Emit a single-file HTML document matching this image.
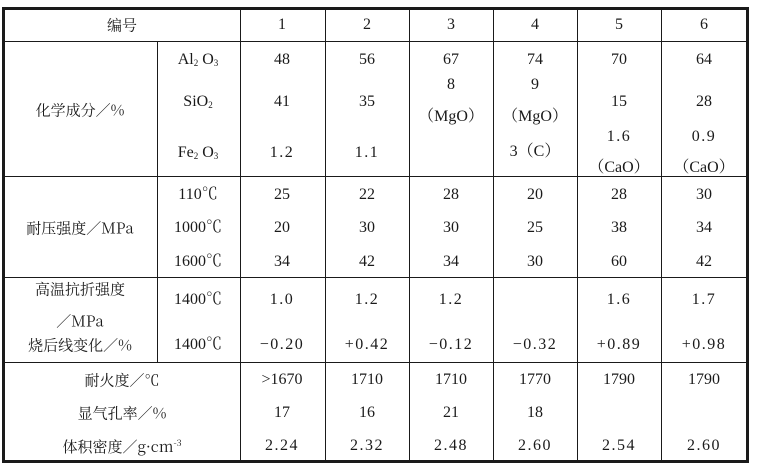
<!DOCTYPE html>
<html><head><meta charset="utf-8"><style>
body{margin:0;width:759px;height:469px;background:#fff;position:relative;overflow:hidden;font-family:"Liberation Serif","Noto Serif CJK SC",serif;color:#1a1a1a;font-size:16px}
.l{position:absolute;background:#1a1a1a}
.t{position:absolute;transform:translate(-50%,-50%);white-space:nowrap;line-height:1}
.d{letter-spacing:1.5px}
.c{font-family:"Noto Serif CJK SC",serif;font-size:15px}
sub{font-size:9px;vertical-align:-2px}
sup{font-size:9px;vertical-align:6px}
</style></head><body>
<div class="l" style="left:2px;top:7px;width:747px;height:3px"></div>
<div class="l" style="left:2px;top:460px;width:747px;height:3px"></div>
<div class="l" style="left:2px;top:7px;width:3px;height:456px"></div>
<div class="l" style="left:746px;top:7px;width:3px;height:456px"></div>
<div class="l" style="left:4px;top:41px;width:744px;height:1px"></div>
<div class="l" style="left:4px;top:176px;width:744px;height:1px"></div>
<div class="l" style="left:4px;top:277px;width:744px;height:1px"></div>
<div class="l" style="left:4px;top:362px;width:744px;height:1px"></div>
<div class="l" style="left:157px;top:42px;width:1px;height:320px"></div>
<div class="l" style="left:240px;top:9px;width:1px;height:452px"></div>
<div class="l" style="left:325px;top:9px;width:1px;height:452px"></div>
<div class="l" style="left:409px;top:9px;width:1px;height:452px"></div>
<div class="l" style="left:493px;top:9px;width:1px;height:452px"></div>
<div class="l" style="left:577px;top:9px;width:1px;height:452px"></div>
<div class="l" style="left:661px;top:9px;width:1px;height:452px"></div>

<div class="t c" style="left:122px;top:25px">编号</div>
<div class="t" style="left:282px;top:25px">1</div><div class="t" style="left:367px;top:25px">2</div><div class="t" style="left:451px;top:25px">3</div><div class="t" style="left:535px;top:25px">4</div><div class="t" style="left:619px;top:25px">5</div><div class="t" style="left:704px;top:25px">6</div>

<div class="t c" style="left:80px;top:110px">化学成分／%</div>
<div class="t" style="left:198px;top:60px">Al<sub>2</sub> O<sub>3</sub></div>
<div class="t" style="left:198px;top:102px">SiO<sub>2</sub></div>
<div class="t" style="left:198px;top:153px">Fe<sub>2</sub> O<sub>3</sub></div>
<div class="t" style="left:282px;top:60px">48</div><div class="t" style="left:367px;top:60px">56</div><div class="t" style="left:451px;top:60px">67</div><div class="t" style="left:535px;top:60px">74</div><div class="t" style="left:619px;top:60px">70</div><div class="t" style="left:704px;top:60px">64</div>
<div class="t" style="left:282px;top:102px">41</div><div class="t" style="left:367px;top:102px">35</div>
<div class="t" style="left:451px;top:85px">8</div><div class="t" style="left:535px;top:85px">9</div>
<div class="t" style="left:451px;top:117px">（MgO）</div><div class="t" style="left:535px;top:117px">（MgO）</div>
<div class="t" style="left:619px;top:102px">15</div><div class="t" style="left:704px;top:102px">28</div>
<div class="t d" style="left:282px;top:153px">1.2</div><div class="t d" style="left:367px;top:153px">1.1</div>
<div class="t" style="left:535px;top:152px">3（C）</div>
<div class="t d" style="left:619px;top:137px">1.6</div><div class="t d" style="left:704px;top:137px">0.9</div>
<div class="t" style="left:619px;top:168px">（CaO）</div><div class="t" style="left:704px;top:168px">（CaO）</div>

<div class="t c" style="left:80px;top:228px">耐压强度／MPa</div>
<div class="t" style="left:198px;top:195px">110℃</div><div class="t" style="left:198px;top:228px">1000℃</div><div class="t" style="left:198px;top:262px">1600℃</div>
<div class="t" style="left:282px;top:195px">25</div><div class="t" style="left:367px;top:195px">22</div><div class="t" style="left:451px;top:195px">28</div><div class="t" style="left:535px;top:195px">20</div><div class="t" style="left:619px;top:195px">28</div><div class="t" style="left:704px;top:195px">30</div>
<div class="t" style="left:282px;top:228px">20</div><div class="t" style="left:367px;top:228px">30</div><div class="t" style="left:451px;top:228px">30</div><div class="t" style="left:535px;top:228px">25</div><div class="t" style="left:619px;top:228px">38</div><div class="t" style="left:704px;top:228px">34</div>
<div class="t" style="left:282px;top:262px">34</div><div class="t" style="left:367px;top:262px">42</div><div class="t" style="left:451px;top:262px">34</div><div class="t" style="left:535px;top:262px">30</div><div class="t" style="left:619px;top:262px">60</div><div class="t" style="left:704px;top:262px">42</div>

<div class="t c" style="left:80px;top:289px">高温抗折强度</div>
<div class="t c" style="left:80px;top:321px">／MPa</div>
<div class="t c" style="left:80px;top:345px">烧后线变化／%</div>
<div class="t" style="left:198px;top:300px">1400℃</div><div class="t" style="left:198px;top:345px">1400℃</div>
<div class="t d" style="left:282px;top:300px">1.0</div><div class="t d" style="left:367px;top:300px">1.2</div><div class="t d" style="left:451px;top:300px">1.2</div><div class="t d" style="left:619px;top:300px">1.6</div><div class="t d" style="left:704px;top:300px">1.7</div>
<div class="t d" style="left:282px;top:345px">−0.20</div><div class="t d" style="left:367px;top:345px">+0.42</div><div class="t d" style="left:451px;top:345px">−0.12</div><div class="t d" style="left:535px;top:345px">−0.32</div><div class="t d" style="left:619px;top:345px">+0.89</div><div class="t d" style="left:704px;top:345px">+0.98</div>

<div class="t c" style="left:122px;top:380px">耐火度／℃</div>
<div class="t c" style="left:122px;top:413px">显气孔率／%</div>
<div class="t c" style="left:122px;top:446px">体积密度／g·cm<sup>-3</sup></div>
<div class="t" style="left:282px;top:380px">&gt;1670</div><div class="t" style="left:367px;top:380px">1710</div><div class="t" style="left:451px;top:380px">1710</div><div class="t" style="left:535px;top:380px">1770</div><div class="t" style="left:619px;top:380px">1790</div><div class="t" style="left:704px;top:380px">1790</div>
<div class="t" style="left:282px;top:413px">17</div><div class="t" style="left:367px;top:413px">16</div><div class="t" style="left:451px;top:413px">21</div><div class="t" style="left:535px;top:413px">18</div>
<div class="t d" style="left:282px;top:446px">2.24</div><div class="t d" style="left:367px;top:446px">2.32</div><div class="t d" style="left:451px;top:446px">2.48</div><div class="t d" style="left:535px;top:446px">2.60</div><div class="t d" style="left:619px;top:446px">2.54</div><div class="t d" style="left:704px;top:446px">2.60</div>
</body></html>
